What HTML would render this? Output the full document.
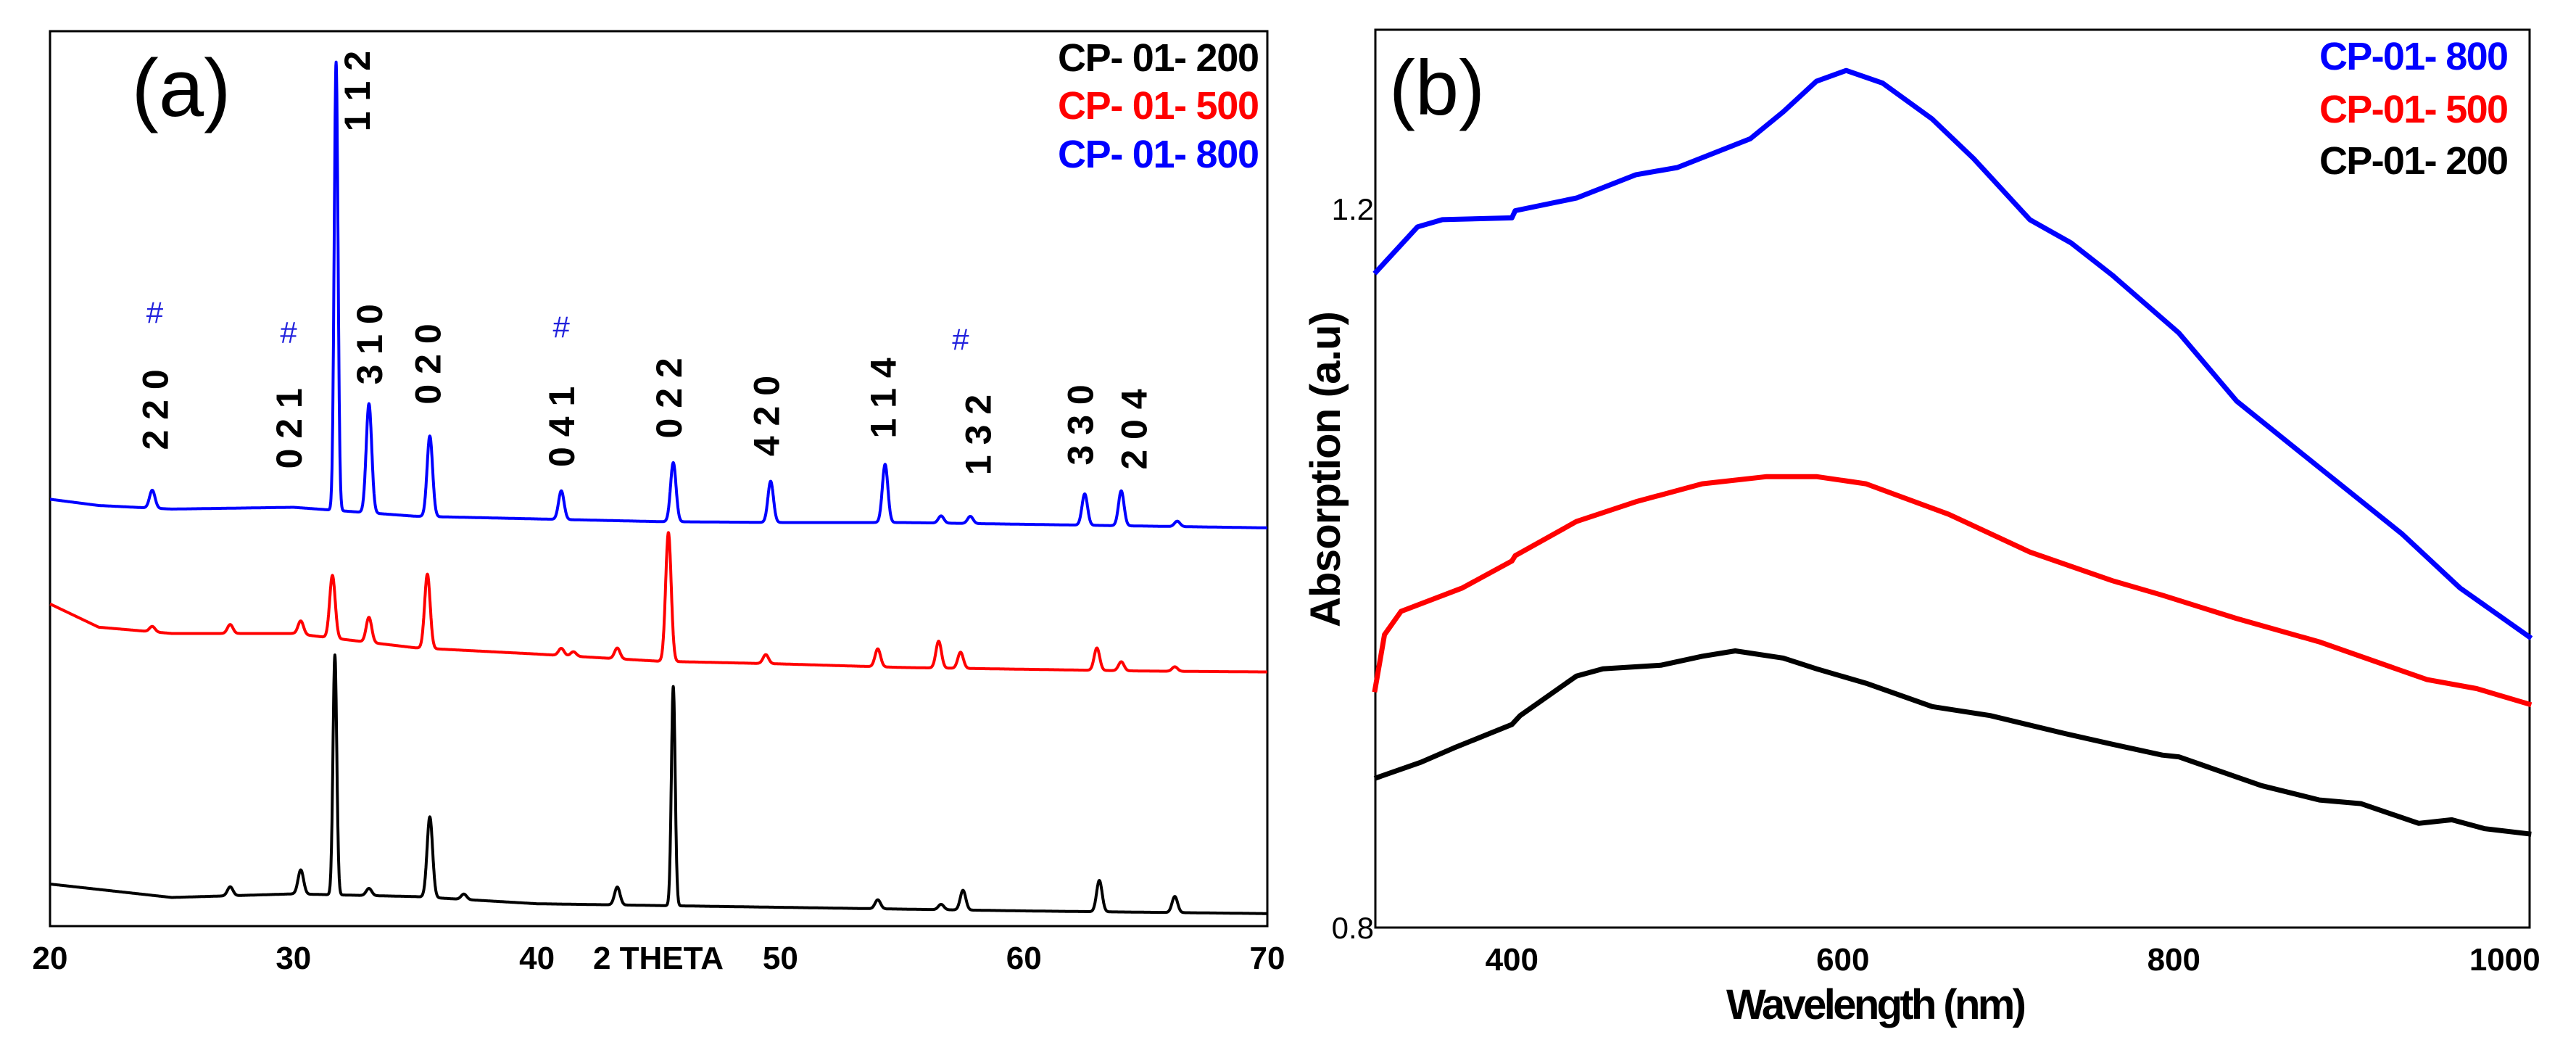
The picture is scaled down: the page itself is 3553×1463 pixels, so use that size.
<!DOCTYPE html>
<html><head><meta charset="utf-8">
<style>
html,body{margin:0;padding:0;background:#fff;overflow:hidden;}
svg{display:block;}
text{font-family:"Liberation Sans",Arial,sans-serif;}
</style></head>
<body>
<svg id="fig" width="3553" height="1463" viewBox="0 0 3553 1463" xmlns="http://www.w3.org/2000/svg">
  <g id="panelA">
    <rect x="69" y="43" width="1679" height="1234" fill="none" stroke="#000" stroke-width="3"/>
    <text x="250" y="160" font-size="112" text-anchor="middle">(a)</text>
    <text x="1737" y="98" font-size="54" font-weight="bold" text-anchor="end" fill="#000" textLength="278">CP- 01- 200</text>
    <text x="1737" y="164" font-size="54" font-weight="bold" text-anchor="end" fill="#ff0000" textLength="278">CP- 01- 500</text>
    <text x="1737" y="231" font-size="54" font-weight="bold" text-anchor="end" fill="#0000ff" textLength="278">CP- 01- 800</text>
    <text x="908" y="1336" font-size="44" font-weight="bold" text-anchor="middle">2 THETA</text>
    <g id="xrdTicks"></g>
    <g id="xrdLabels"></g>
    <g id="xrdLines"></g>
  </g>
  <g id="panelB">
    <rect x="1897" y="41" width="1592" height="1238" fill="none" stroke="#000" stroke-width="3"/>
    <text x="1982" y="158" font-size="108" text-anchor="middle">(b)</text>
    <text x="3460" y="96" font-size="54" font-weight="bold" text-anchor="end" fill="#0000ff" textLength="261">CP-01- 800</text>
    <text x="3460" y="169" font-size="54" font-weight="bold" text-anchor="end" fill="#ff0000" textLength="261">CP-01- 500</text>
    <text x="3460" y="240" font-size="54" font-weight="bold" text-anchor="end" fill="#000" textLength="261">CP-01- 200</text>
    <text x="2588" y="1405" font-size="58" font-weight="bold" text-anchor="middle" textLength="414">Wavelength (nm)</text>
    <text transform="translate(1848,647) rotate(-90)" font-size="58" font-weight="bold" text-anchor="middle" textLength="436">Absorption (a.u)</text>
    <g id="absTicks"></g>
    <g id="absLines"></g>
  </g>
</svg>
<script>
// ---------- Panel (a) XRD data ----------
const xrdTickValues = [20, 30, 40, 50, 60, 70];
const xrdTickLabels = ["20", "30", "40", "50", "60", "70"];
const blackBaseX = [20, 25, 30, 35, 40, 50, 60, 70];
const blackBaseY = [47, 32, 36, 33, 25, 21, 17, 14];
const redBaseX = [20, 22, 25, 30, 35, 40, 45, 50, 55, 60, 65, 70];
const redBaseY = [360, 334, 327, 327, 311, 304, 296, 293, 289, 287, 285, 284];
const blueBaseX = [20, 22, 25, 30, 35, 40, 45, 50, 55, 60, 65, 70];
const blueBaseY = [477, 470, 466, 468, 458, 455, 452, 451, 451, 449, 447, 445];
const blackPeakPos = [27.4, 30.3, 31.7, 33.1, 35.6, 37.0, 43.3, 45.6, 54.0, 56.6, 57.5, 63.1, 66.2];
const blackPeakH = [10, 27, 268, 8, 90, 6, 20, 245, 10, 6, 22, 35, 18];
const redPeakPos = [24.2, 27.4, 30.3, 31.6, 33.1, 35.5, 41.0, 41.5, 43.3, 45.4, 49.4, 54.0, 56.5, 57.4, 63.0, 64.0, 66.2];
const redPeakH = [6, 10, 15, 70, 28, 83, 8, 5, 12, 144, 10, 20, 30, 18, 25, 10, 5];
const bluePeakPos = [24.2, 31.75, 33.1, 35.6, 41.0, 45.6, 49.6, 54.3, 56.6, 57.8, 62.5, 64.0, 66.3];
const bluePeakH = [20, 501, 122, 90, 32, 66, 46, 65, 8, 8, 35, 39, 6];
const hklText = ["2 2 0", "0 2 1", "1 1 2", "3 1 0", "0 2 0", "0 4 1", "0 2 2", "4 2 0", "1 1 4", "1 3 2", "3 3 0", "2 0 4"];
const hklTheta = [24.3, 29.8, 32.6, 33.1, 35.5, 41.0, 45.4, 49.4, 54.2, 58.1, 62.3, 64.5];
const hklBaseI = [532, 511, 888, 605, 583, 513, 545, 525, 545, 504, 515, 510];
const hashTheta = [24.3, 29.8, 41.0, 57.4];
const hashI = [685, 663, 669, 655];

// ---------- Panel (b) absorption data ----------
const absTickX = [400, 600, 800, 1000];
const absTickXLabels = ["400", "600", "800", "1000"];
const absTickY = [0.8, 1.2];
const absTickYLabels = ["0.8", "1.2"];
const blueWl = [317, 343, 358, 400, 402, 439, 475, 500, 544, 564, 584, 602, 624, 654, 679, 713, 738, 763, 803, 838, 888, 938, 973, 1016];
const blueAbs = [1.164, 1.19, 1.194, 1.195, 1.199, 1.206, 1.219, 1.223, 1.239, 1.254, 1.271, 1.277, 1.27, 1.25, 1.228, 1.194, 1.181, 1.163, 1.131, 1.093, 1.056, 1.019, 0.989, 0.961];
const redWl = [317, 323, 333, 370, 400, 402, 439, 475, 515, 554, 584, 614, 664, 713, 763, 793, 838, 888, 953, 983, 1016];
const redAbs = [0.931, 0.963, 0.976, 0.989, 1.004, 1.007, 1.026, 1.037, 1.047, 1.051, 1.051, 1.047, 1.03, 1.009, 0.993, 0.985, 0.972, 0.959, 0.938, 0.933, 0.924];
const blackWl = [317, 345, 365, 400, 405, 439, 455, 490, 515, 535, 564, 584, 614, 654, 689, 734, 763, 793, 803, 853, 888, 913, 948, 968, 988, 1016];
const blackAbs = [0.883, 0.892, 0.9, 0.913, 0.918, 0.94, 0.944, 0.946, 0.951, 0.954, 0.95, 0.944, 0.936, 0.923, 0.918, 0.908, 0.902, 0.896, 0.895, 0.879, 0.871, 0.869, 0.858, 0.86, 0.855, 0.852];

const NS = "http://www.w3.org/2000/svg";
function mk(tag, parent) { const e = document.createElementNS(NS, tag); parent.appendChild(e); return e; }

const ax = { x0: 69, x1: 1748, y0: 1277, y1: 43, tmin: 20, tmax: 70, imax: 1000 };
function xA(t) { return ax.x0 + (t - ax.tmin) / (ax.tmax - ax.tmin) * (ax.x1 - ax.x0); }
function yA(i) { return ax.y0 - i / ax.imax * (ax.y0 - ax.y1); }
const bx = { x0: 1897, x1: 3489, y0: 1279, y1: 41, wmin: 317.5, wmax: 1015, amin: 0.8, amax: 1.2997 };
function xB(w) { return bx.x0 + (w - bx.wmin) / (bx.wmax - bx.wmin) * (bx.x1 - bx.x0); }
function yB(a) { return bx.y0 - (a - bx.amin) / (bx.amax - bx.amin) * (bx.y0 - bx.y1); }

function interp(xs, ys, x) {
  if (x <= xs[0]) return ys[0];
  for (let i = 1; i < xs.length; i++) if (x <= xs[i]) { const f = (x - xs[i-1]) / (xs[i] - xs[i-1]); return ys[i-1] + f * (ys[i] - ys[i-1]); }
  return ys[ys.length - 1];
}
function profile(bx_, by_, pp, ph, t) {
  let v = interp(bx_, by_, t);
  for (let k = 0; k < pp.length; k++) {
    const w = ph[k] > 200 ? 0.11 : 0.16;
    const d = (t - pp[k]) / w;
    v += ph[k] * Math.exp(-d * d);
  }
  return v;
}

const xt = document.getElementById("xrdTicks");
xrdTickValues.forEach((t, i) => {
  const e = mk("text", xt);
  
  
  e.setAttribute("x", xA(t)); e.setAttribute("y", 1336);
  e.setAttribute("font-size", "44"); e.setAttribute("font-weight", "bold");
  e.setAttribute("text-anchor", "middle");
  e.textContent = xrdTickLabels[i];
});

const xl = document.getElementById("xrdLines");
[["black", blackBaseX, blackBaseY, blackPeakPos, blackPeakH, "#000"],
 ["red", redBaseX, redBaseY, redPeakPos, redPeakH, "#ff0000"],
 ["blue", blueBaseX, blueBaseY, bluePeakPos, bluePeakH, "#0000ff"]].forEach(s => {
  let d = "";
  for (let t = 20; t <= 70.0001; t += 0.01) {
    const v = profile(s[1], s[2], s[3], s[4], t);
    d += (d ? "L" : "M") + xA(t).toFixed(1) + "," + yA(v).toFixed(1);
  }
  const p = mk("path", xl);
  
  
  p.setAttribute("d", d); p.setAttribute("fill", "none");
  p.setAttribute("stroke", s[5]); p.setAttribute("stroke-width", "4");
  p.setAttribute("stroke-linejoin", "round");
});

const lb = document.getElementById("xrdLabels");
hklText.forEach((txt, i) => {
  const e = mk("text", lb);
  
  
  e.setAttribute("transform", "translate(" + (xA(hklTheta[i]) + 18) + "," + yA(hklBaseI[i]) + ") rotate(-90)");
  e.setAttribute("font-size", "50"); e.setAttribute("font-weight", "bold");
  e.textContent = txt;
});
hashTheta.forEach((t, i) => {
  const e = mk("text", lb);
  
  
  e.setAttribute("x", xA(t)); e.setAttribute("y", yA(hashI[i]) + 14);
  e.setAttribute("font-size", "42"); e.setAttribute("text-anchor", "middle");
  e.setAttribute("fill", "#2222dd");
  e.textContent = "#";
});

const at = document.getElementById("absTicks");
absTickX.forEach((w, i) => {
  const e = mk("text", at);
  
  
  e.setAttribute("x", xB(w)); e.setAttribute("y", 1338);
  e.setAttribute("font-size", "44"); e.setAttribute("font-weight", "bold");
  e.setAttribute("text-anchor", "middle");
  e.textContent = absTickXLabels[i];
});
absTickY.forEach((a, i) => {
  const e = mk("text", at);
  
  
  e.setAttribute("x", 1895); e.setAttribute("y", yB(a) + 15);
  e.setAttribute("font-size", "42");
  e.setAttribute("text-anchor", "end");
  e.textContent = absTickYLabels[i];
});

const al = document.getElementById("absLines");
[["blue", blueWl, blueAbs, "#0000ff"], ["red", redWl, redAbs, "#ff0000"], ["black", blackWl, blackAbs, "#000"]].forEach(s => {
  let d = "";
  s[1].forEach((w, i) => { d += (i ? "L" : "M") + xB(w).toFixed(1) + "," + yB(s[2][i]).toFixed(1); });
  const p = mk("path", al);
  
  
  p.setAttribute("d", d); p.setAttribute("fill", "none");
  p.setAttribute("stroke", s[3]); p.setAttribute("stroke-width", "7");
  p.setAttribute("stroke-linejoin", "round");
});
</script>
</body></html>
